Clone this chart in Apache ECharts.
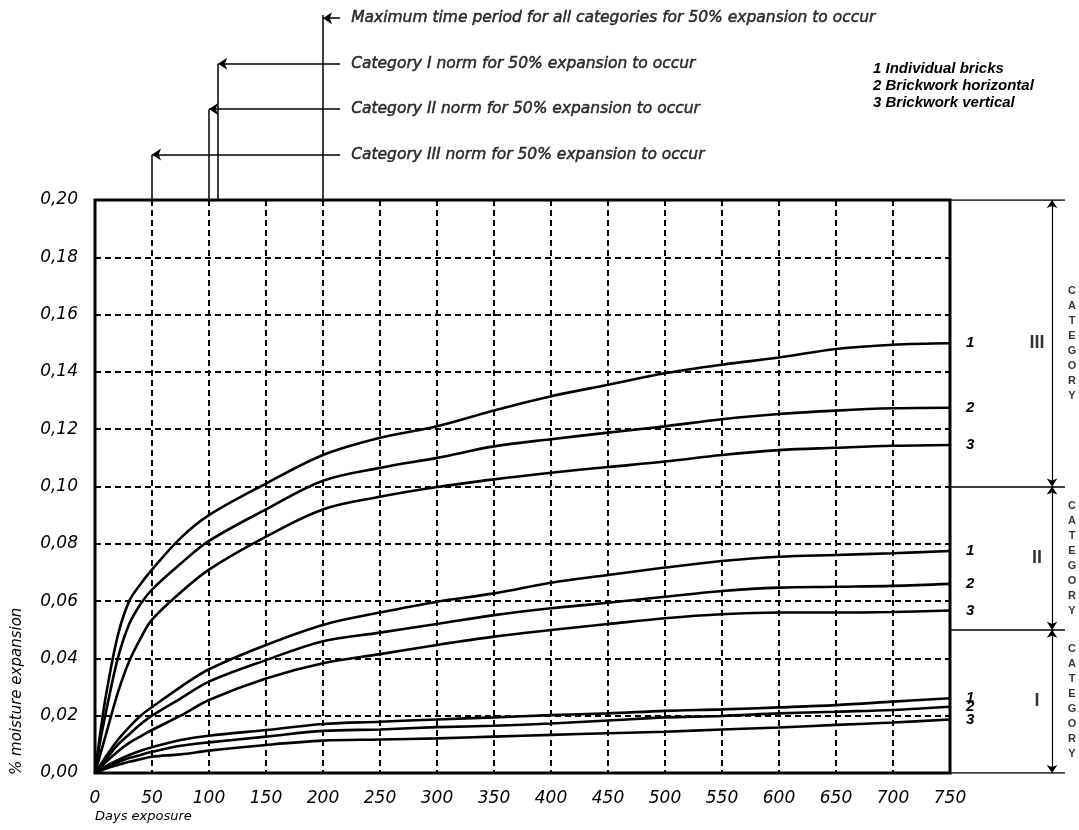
<!DOCTYPE html>
<html><head><meta charset="utf-8">
<script src="https://cdn.jsdelivr.net/npm/echarts@6/dist/echarts.min.js"></script>
<style>html,body{margin:0;padding:0;background:#fff}#c{width:1079px;height:830px}</style>
</head><body><div id="c"></div>
<script>
// ---- data ----
const days = [0,5,10,20,30,40,50,75,100,150,200,250,300,350,400,450,500,550,600,650,700,750];
// Category III
const cat3_1 = [0,0.015,0.028,0.048,0.060,0.066,0.071,0.082,0.090,0.101,0.111,0.117,0.121,0.1265,0.1315,0.1355,0.1395,0.1425,0.145,0.148,0.1495,0.150];
const cat3_2 = [0,0.012,0.022,0.040,0.052,0.059,0.064,0.073,0.081,0.092,0.102,0.1065,0.110,0.114,0.1165,0.1188,0.121,0.1235,0.1253,0.1265,0.1273,0.1275];
const cat3_3 = [0,0.007,0.014,0.028,0.039,0.047,0.0535,0.063,0.071,0.0825,0.092,0.0964,0.0998,0.1025,0.1048,0.1068,0.1087,0.111,0.1127,0.1135,0.1142,0.1145];
// Category II
const cat2_1 = [0,0.003,0.006,0.0115,0.016,0.020,0.023,0.030,0.0362,0.0447,0.0517,0.056,0.0598,0.0627,0.0664,0.0691,0.0717,0.074,0.0755,0.0761,0.0767,0.0775];
const cat2_2 = [0,0.0025,0.005,0.0098,0.0135,0.017,0.020,0.026,0.0319,0.0394,0.046,0.049,0.052,0.0551,0.0575,0.0594,0.0615,0.0635,0.0647,0.065,0.0653,0.066];
const cat2_3 = [0,0.002,0.004,0.0075,0.0105,0.0128,0.015,0.020,0.0255,0.033,0.0383,0.0415,0.0447,0.0476,0.0499,0.052,0.054,0.0554,0.056,0.056,0.0562,0.0567];
// Category I
const cat1_1 = [0,0.0012,0.0025,0.0045,0.0063,0.0078,0.009,0.0115,0.013,0.015,0.0171,0.0179,0.0187,0.0194,0.0202,0.0208,0.0217,0.0222,0.0229,0.0237,0.0249,0.0261];
const cat1_2 = [0,0.001,0.002,0.0037,0.0052,0.0063,0.0074,0.0095,0.0107,0.0127,0.0147,0.0152,0.016,0.0165,0.0173,0.0183,0.0194,0.0199,0.0208,0.0214,0.022,0.0231];
const cat1_3 = [0,0.0008,0.0016,0.0028,0.0039,0.0048,0.0057,0.0065,0.0078,0.0098,0.0113,0.0117,0.0121,0.0127,0.0133,0.0139,0.0144,0.0152,0.0159,0.0168,0.0176,0.0187];
const curveSets = [
  {n:'1', v:cat3_1},{n:'2', v:cat3_2},{n:'3', v:cat3_3},
  {n:'1', v:cat2_1},{n:'2', v:cat2_2},{n:'3', v:cat2_3},
  {n:'1', v:cat1_1},{n:'2', v:cat1_2},{n:'3', v:cat1_3}
];
// norms (days for 50% expansion) and annotation texts
const normDays = [200, 108, 100, 50];
const normLevels = [4, 3, 2, 1];
const normTexts = [
  'Maximum time period for all categories for 50% expansion to occur',
  'Category I norm for 50% expansion to occur',
  'Category II norm for 50% expansion to occur',
  'Category III norm for 50% expansion to occur'
];
const textStartDay = 219;
// category bands
const catBounds = [0, 0.05, 0.10, 0.20];
const catNames = ['I', 'II', 'III'];
const legendLines = ['1 Individual bricks', '2 Brickwork horizontal', '3 Brickwork vertical'];

const FONT = 'Liberation Sans';
const TFONT = 'DejaVu Sans';
const fmt = v => v.toFixed(2).replace('.', ',');

const chart = echarts.init(document.getElementById('c'), null, {renderer:'canvas'});
const series = [];

curveSets.forEach(c => {
  series.push({
    type:'line', xAxisIndex:0, yAxisIndex:0, smooth:0.35,
    showSymbol:false, silent:true, z:5,
    lineStyle:{color:'#000', width:2.6},
    data: days.map((d,i)=>[d, c.v[i]]),
    endLabel:{show:true, formatter:c.n, offset:[8,0], color:'#000',
      fontFamily:FONT, fontStyle:'italic', fontWeight:'bold', fontSize:15}
  });
});

// top annotations (grid 1)
normDays.forEach((d,i) => {
  series.push({
    type:'lines', coordinateSystem:'cartesian2d', xAxisIndex:1, yAxisIndex:1, silent:true,
    lineStyle:{color:'#000', width:1.5, opacity:1}, symbol:['none','none'],
    data:[{coords:[[d,0],[d,normLevels[i] + (i===0?0.07:0)]]}]
  });
  series.push({
    type:'lines', coordinateSystem:'cartesian2d', xAxisIndex:1, yAxisIndex:1, silent:true,
    lineStyle:{color:'#000', width:1.5, opacity:1}, symbol:['none','arrow'], symbolSize:9,
    data:[{coords:[[textStartDay-4,normLevels[i]],[d,normLevels[i]]]}]
  });
});
series.push({
  type:'scatter', xAxisIndex:1, yAxisIndex:1, symbolSize:1, itemStyle:{color:'rgba(0,0,0,0)'}, silent:true,
  data: normTexts.map((t,i)=>({value:[textStartDay, normLevels[i]], name:t})),
  label:{show:true, position:'right', distance:6, formatter:p=>p.name, color:'#000',
    textBorderColor:'#000', textBorderWidth:0.5,
    fontFamily:TFONT, fontStyle:'italic', fontSize:15.5}
});

// right category bands (grid 2)
const lineEnd = 0.891, arrowX = 0.791, numX = 0.674, catX = 0.946;
series.push({
  type:'lines', coordinateSystem:'cartesian2d', xAxisIndex:2, yAxisIndex:2, silent:true,
  lineStyle:{color:'#000', width:1.5, opacity:1}, symbol:['none','none'],
  data: catBounds.map(b=>({coords:[[0,b],[lineEnd,b]]}))
});
series.push({
  type:'lines', coordinateSystem:'cartesian2d', xAxisIndex:2, yAxisIndex:2, silent:true,
  lineStyle:{color:'#000', width:1.2, opacity:1}, symbol:['arrow','arrow'], symbolSize:8,
  data: catNames.map((n,i)=>({coords:[[arrowX,catBounds[i]],[arrowX,catBounds[i+1]]]}))
});
series.push({
  type:'scatter', xAxisIndex:2, yAxisIndex:2, symbolSize:1, itemStyle:{color:'rgba(0,0,0,0)'}, silent:true,
  data: catNames.map((n,i)=>({value:[numX,(catBounds[i]+catBounds[i+1])/2], name:n})),
  label:{show:true, position:'inside', formatter:p=>p.name, color:'#000',
    fontFamily:FONT, fontWeight:'bold', fontSize:18}
});
series.push({
  type:'scatter', xAxisIndex:2, yAxisIndex:2, symbolSize:1, itemStyle:{color:'rgba(0,0,0,0)'}, silent:true,
  data: catNames.map((n,i)=>({value:[catX,(catBounds[i]+catBounds[i+1])/2], name:'CATEGORY'})),
  label:{show:true, position:'inside', formatter:p=>p.name.split('').join('\n'), color:'#000',
    fontFamily:FONT, fontWeight:'bold', fontSize:11, lineHeight:15, align:'center'}
});

const graphic = [
  {type:'text', left:95, top:810, style:{text:'Days exposure', font:'italic 13px '+TFONT, fill:'#000'}},
  {type:'text', x:17, y:775, rotation:Math.PI/2, style:{text:'% moisture expansion', font:'italic 15px '+TFONT, fill:'#000', textAlign:'left', textVerticalAlign:'middle'}}
];
legendLines.forEach((t,i)=>graphic.push({type:'text', left:873, top:61+i*17,
  style:{text:t, font:'italic bold 15px '+FONT, fill:'#000'}}));

chart.setOption({
  animation:false,
  backgroundColor:'#fff',
  grid:[
    {left:95, right:129, top:200, bottom:57, show:true, borderColor:'#000', borderWidth:3, backgroundColor:'transparent', z:1},
    {left:95, right:129, top:0, height:200},
    {left:950, right:0, top:200, bottom:57}
  ],
  xAxis:[
    {gridIndex:0, type:'value', min:0, max:750, interval:50,
      axisLine:{show:false}, axisTick:{show:false},
      axisLabel:{margin:17, color:'#000', fontFamily:TFONT, fontStyle:'italic', fontSize:17},
      splitLine:{show:true, lineStyle:{color:'#000', width:2, type:[6,4]}}},
    {gridIndex:1, type:'value', min:0, max:750, show:false},
    {gridIndex:2, type:'value', min:0, max:1, show:false}
  ],
  yAxis:[
    {gridIndex:0, type:'value', min:0, max:0.2, interval:0.02,
      axisLine:{show:false}, axisTick:{show:false},
      axisLabel:{margin:17, color:'#000', fontFamily:TFONT, fontStyle:'italic', fontSize:17, formatter:fmt},
      splitLine:{show:true, lineStyle:{color:'#000', width:2, type:[6,4]}}},
    {gridIndex:1, type:'value', min:0, max:4.4, show:false},
    {gridIndex:2, type:'value', min:0, max:0.2, show:false}
  ],
  graphic: graphic,
  series: series
});
</script>
</body></html>
